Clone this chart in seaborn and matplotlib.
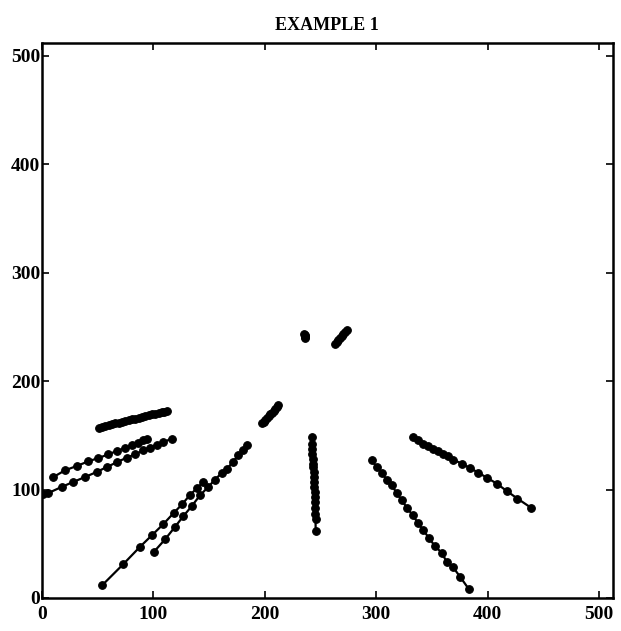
import numpy as np
import pandas as pd
import matplotlib
matplotlib.use("Agg")
import matplotlib.pyplot as plt
import seaborn as sns

# ---- data ----
s1_x = [51, 54, 57, 60, 63, 66, 69, 72, 75, 78, 81, 84, 87, 90, 93, 96, 99, 102, 105, 108, 110, 112]
s1_y = [157, 157.9, 158.5, 159.4, 160.3, 161, 161.6, 162.5, 163.2, 164, 164.8, 165.4, 166.2, 167.1, 167.7, 168.4, 169.3, 170, 170.6, 171.4, 171.8, 172.2]

s2_x = [10.4, 20.9, 31.4, 41.8, 50.8, 59.7, 67.3, 74.7, 80.7, 86.6, 91.1, 94.2]
s2_y = [111.5, 117.7, 121.7, 126.0, 129.0, 132.4, 135.5, 138.2, 140.7, 143.2, 145.3, 146.9]

s3_x = [1.0, 6.0, 17.9, 28.3, 38.8, 49.3, 58.3, 67.3, 76.2, 83.7, 91.1, 97.1, 103.1, 109.1, 116.6]
s3_y = [96.0, 96.8, 102.4, 107.0, 111.5, 116.2, 120.7, 125.1, 129.4, 132.4, 136.1, 138.6, 141.3, 143.7, 146.9]

s4_x = [54.5, 73.0, 88.0, 99.0, 109.0, 118.5, 126.0, 133.0, 139.5, 144.5]
s4_y = [12.0, 31.0, 47.0, 58.0, 68.0, 78.5, 86.5, 95.0, 101.5, 106.5]

s5_x = [100.7, 110.6, 119.6, 127.0, 134.5, 142.0, 149.4, 155.4, 161.4, 166.5, 171.3, 176.3, 180.8, 184.4]
s5_y = [42.6, 54.0, 65.6, 75.4, 84.6, 94.7, 102.4, 109.2, 115.2, 119.3, 125.3, 131.5, 136.1, 140.7]

s6_x = [197.5, 199.0, 200.5, 202.0, 203.5, 205.0, 206.5, 208.0, 209.5, 211.0, 212.0]
s6_y = [161.0, 162.5, 164.3, 166.0, 167.8, 169.5, 171.0, 172.8, 174.5, 176.0, 177.5]

s7_x = [235.5, 235.8, 236.0, 236.2, 236.3]
s7_y = [243.5, 242.5, 241.5, 240.5, 239.8]

s8_x = [263.0, 264.5, 266.0, 267.5, 269.0, 270.5, 272.0, 273.5]
s8_y = [234.5, 236.5, 238.0, 240.0, 242.0, 243.5, 245.5, 247.0]

s9_x = [242.1, 242.3, 242.6, 242.8, 243.0, 243.3, 243.5, 243.8, 244.0, 244.2, 244.5, 244.7, 244.9, 245.1, 245.3, 245.5, 245.6, 245.7]
s9_y = [148.3, 142.2, 137.6, 133.0, 128.4, 123.8, 120.8, 116.2, 111.6, 107.0, 102.4, 97.8, 93.2, 88.6, 83.4, 77.9, 72.4, 61.9]

s10_x = [296.0, 300.4, 304.9, 309.4, 313.9, 318.4, 322.9, 327.4, 332.7, 337.8, 342.2, 347.6, 352.7, 358.7, 363.2, 368.6, 375.2, 383.2]
s10_y = [126.9, 120.8, 115.3, 109.2, 103.9, 96.8, 90.1, 83.4, 76.3, 68.7, 62.5, 54.9, 47.8, 41.7, 33.4, 28.8, 19.6, 8.0]

s11_x = [333.3, 337.8, 342.2, 346.7, 351.2, 355.7, 360.2, 364.7, 369.1, 376.7, 384.1, 391.6, 399.1, 408.1, 417.0, 426.6, 438.6]
s11_y = [148.3, 145.3, 142.3, 139.8, 137.7, 135.2, 133.1, 130.6, 127.5, 123.9, 119.8, 115.6, 111.0, 105.5, 98.7, 91.7, 83.4]

series_x = [s1_x, s2_x, s3_x, s4_x, s5_x, s6_x, s7_x, s8_x, s9_x, s10_x, s11_x]
series_y = [s1_y, s2_y, s3_y, s4_y, s5_y, s6_y, s7_y, s8_y, s9_y, s10_y, s11_y]

tick_vals = [0, 100, 200, 300, 400, 500]
title_text = "EXAMPLE 1"

rows = []
for i, (xs, ys) in enumerate(zip(series_x, series_y)):
    for xv, yv in zip(xs, ys):
        rows.append({"series": f"s{i+1}", "x": xv, "y": yv})
df = pd.DataFrame(rows)

sns.set_theme(style="white")
plt.rcParams['font.family'] = ['Liberation Serif', 'DejaVu Serif']
plt.rcParams['font.weight'] = 'bold'
plt.rcParams['text.color'] = 'black'

fig = plt.figure(figsize=(6.21, 6.31), dpi=100)
ax = fig.add_axes([0.0671, 0.0523, 0.9194, 0.880])

n = len(series_x)
sns.lineplot(data=df, x="x", y="y", hue="series", units=None,
             palette=["black"] * n, sort=False, estimator=None,
             marker="o", markersize=5.5, markerfacecolor="black",
             markeredgecolor="black", markeredgewidth=0.8,
             linewidth=1.6, legend=False, ax=ax)

ax.set_xlim(0, 512)
ax.set_ylim(0, 512)
ax.set_xticks(tick_vals)
ax.set_yticks(tick_vals)
ax.set_xticklabels([str(v) for v in tick_vals], fontsize=14, fontweight='bold')
ax.set_yticklabels([str(v) for v in tick_vals], fontsize=14, fontweight='bold')
ax.set_xlabel("")
ax.set_ylabel("")
ax.tick_params(direction="in", length=5, width=1.2, top=True, right=True,
               bottom=True, left=True, colors="black")
ax.tick_params(axis='x', pad=6)
ax.tick_params(axis='y', pad=1)
for sp in ax.spines.values():
    sp.set_color("black")
    sp.set_linewidth(1.8)
ax.set_title(title_text, fontsize=13, fontweight='bold', pad=9, color="black")

fig.savefig("out.png", dpi=100)
